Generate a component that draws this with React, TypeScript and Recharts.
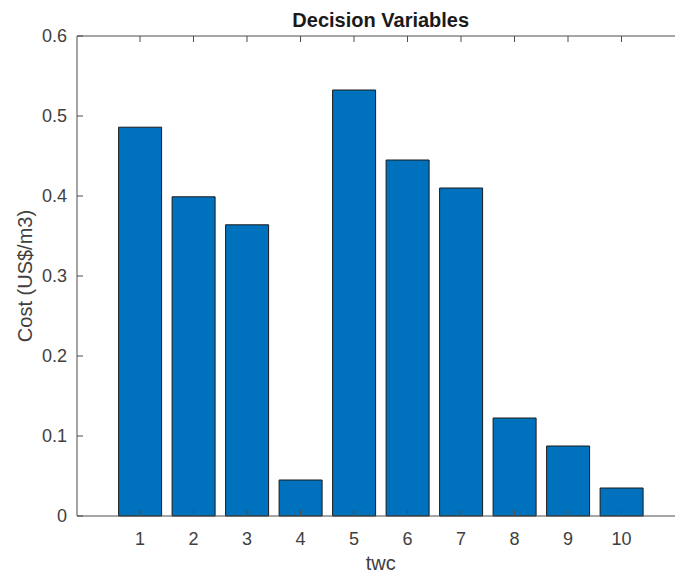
import { BarChart, Bar, XAxis, YAxis, Label } from 'recharts';

const twc = [1, 2, 3, 4, 5, 6, 7, 8, 9, 10];
const cost = [0.486, 0.399, 0.364, 0.045, 0.5325, 0.445, 0.41, 0.1225, 0.0875, 0.035];
const yTicks = [0, 0.1, 0.2, 0.3, 0.4, 0.5, 0.6];

const data = twc.map((t, i) => ({ twc: t, cost: cost[i] }));

const FONT = '"Liberation Sans", Arial, Helvetica, sans-serif';
const AXIS = '#4d4d4d';
const TEXT = '#404040';

const BottomTick = (props: any) => {
  const { x, y, payload } = props;
  return (
    <g>
      <line x1={x} x2={x} y1={y} y2={y - 6} stroke={AXIS} />
      <text x={x} y={y + 29} textAnchor="middle" fill={TEXT} fontSize={18} fontFamily={FONT}>
        {payload.value}
      </text>
    </g>
  );
};

const TopTick = (props: any) => {
  const { x, y } = props;
  return <line x1={x} x2={x} y1={y} y2={y + 6} stroke={AXIS} />;
};

const LeftTick = (props: any) => {
  const { x, y, payload } = props;
  return (
    <g>
      <line x1={x} x2={x + 6} y1={y} y2={y} stroke={AXIS} />
      <text x={x - 10} y={y} dy="0.35em" textAnchor="end" fill={TEXT} fontSize={18} fontFamily={FONT}>
        {payload.value}
      </text>
    </g>
  );
};

function App() {
  return (
    <div style={{ position: 'absolute', left: 0, top: 0, width: 675, height: 576, overflow: 'hidden', background: '#fff' }}>
      <BarChart width={700} height={576} data={data} barCategoryGap="10%"
        margin={{ top: 35, right: 15.5, bottom: 0, left: 17 }}>
        <XAxis dataKey="twc" xAxisId="top" orientation="top" height={1}
          padding={{ left: 36.25, right: 36.25 }}
          axisLine={{ stroke: AXIS }} tickLine={false} tickSize={0} tickMargin={0}
          tick={<TopTick />} interval={0}>
          <Label content={(p: any) => (
            <text x={p.viewBox.x + p.viewBox.width / 2} y={p.viewBox.y + p.viewBox.height - 9} textAnchor="middle"
              fontSize={20} fontWeight="bold" fill="#1a1a1a" fontFamily={FONT}>
              Decision Variables
            </text>
          )} />
        </XAxis>
        <XAxis dataKey="twc" height={60}
          padding={{ left: 36.25, right: 36.25 }}
          axisLine={{ stroke: AXIS }} tickLine={false} tickSize={0} tickMargin={0}
          tick={<BottomTick />} interval={0}>
          <Label content={(p: any) => (
            <text x={p.viewBox.x + p.viewBox.width / 2} y={p.viewBox.y + 54} textAnchor="middle"
              fontSize={20} fill={TEXT} fontFamily={FONT}>
              twc
            </text>
          )} />
        </XAxis>
        <YAxis width={60} domain={[0, 0.6]} ticks={yTicks} type="number"
          axisLine={{ stroke: AXIS }} tickLine={false} tickSize={0} tickMargin={0}
          tick={<LeftTick />} interval={0}>
          <Label content={(p: any) => {
            const cx = p.viewBox.x + 15;
            const cy = p.viewBox.y + p.viewBox.height / 2;
            return (
              <text x={cx} y={cy} transform={`rotate(-90, ${cx}, ${cy})`} textAnchor="middle"
                fontSize={20} fill={TEXT} fontFamily={FONT}>
                Cost (US$/m3)
              </text>
            );
          }} />
        </YAxis>
        <Bar dataKey="cost" fill="#0072BD" stroke="#1a1a1a" strokeWidth={1} isAnimationActive={false} />
      </BarChart>
    </div>
  );
}

export default App;
